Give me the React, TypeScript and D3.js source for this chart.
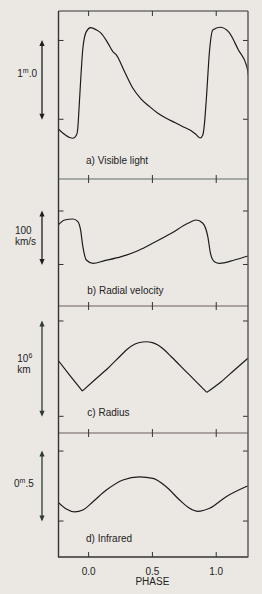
import React from "react";
import * as d3 from "d3";

// ---- data ----
const lightPhase = [-0.245, -0.2, -0.15, -0.122, -0.095, -0.085, -0.078, -0.063, -0.045, -0.018, 0.016, 0.06, 0.099, 0.15, 0.19, 0.217, 0.28, 0.347, 0.41, 0.478, 0.54, 0.608, 0.68, 0.739, 0.804, 0.84, 0.875, 0.895, 0.905, 0.922, 0.948, 0.973, 1.03, 1.096, 1.174, 1.24, 1.254];
const lightMag = [1.11, 1.178, 1.231, 1.241, 1.2, 1.12, 0.945, 0.523, 0.099, -0.112, -0.162, -0.135, -0.091, 0.03, 0.142, 0.184, 0.39, 0.607, 0.74, 0.84, 0.92, 0.987, 1.045, 1.094, 1.145, 1.19, 1.238, 1.2, 1.1, 0.755, 0.121, -0.133, -0.168, -0.112, 0.121, 0.332, 0.459];

const velPhase = [-0.245, -0.188, -0.123, -0.084, -0.063, -0.045, -0.018, 0.034, 0.125, 0.256, 0.386, 0.517, 0.648, 0.778, 0.843, 0.895, 0.934, 0.955, 0.986, 1.025, 1.143, 1.248];
const velKms = [22.0, 33.2, 35.0, 30.0, 14.5, -16.7, -41.6, -47.8, -42.9, -35.4, -24.2, -8.5, 8.3, 27.0, 33.2, 27.0, 2.0, -29.1, -44.8, -47.8, -41.6, -34.1];

const radiusPhase = [-0.245, -0.149, -0.049, 0.047, 0.151, 0.256, 0.3, 0.36, 0.4, 0.45, 0.5, 0.543, 0.59, 0.648, 0.778, 0.856, 0.926, 1.039, 1.143, 1.248];
const radiusVal = [0.598, 0.433, 0.265, 0.381, 0.504, 0.643, 0.7, 0.755, 0.774, 0.782, 0.773, 0.748, 0.7, 0.625, 0.45, 0.346, 0.251, 0.363, 0.486, 0.609];
// indices of the sharp minima (cusps) in the radius curve
const radiusCusps = [2, 16];

const irPhase = [-0.24, -0.175, -0.11, -0.045, 0.034, 0.139, 0.269, 0.399, 0.504, 0.608, 0.713, 0.791, 0.856, 0.948, 1.078, 1.245];
const irMag = [0.366, 0.414, 0.434, 0.421, 0.362, 0.279, 0.207, 0.184, 0.195, 0.255, 0.35, 0.409, 0.431, 0.409, 0.326, 0.25];

const panelTitles = ["a) Visible light", "b) Radial velocity", "c) Radius", "d) Infrared"];
const lightTicks = [0, 1];
const velTicks = [50, -50];
const radiusTicks = [1, 0];
const irTicks = [0, 0.5];
const phaseTicks = [0, 0.5, 1];
const phaseTickLabels = ["0.0", "0.5", "1.0"];
const xTitle = "PHASE";

// ---- layout ----
const W = 262, H = 594;
const L = 58.5, R = 248;
const FONT = "'Liberation Sans', Arial, Helvetica, sans-serif";
const INK = "#1c1c1c";

const x = d3.scaleLinear().domain([-0.236, 1.249]).range([L, R]);

type Panel = {
  top: number; bottom: number; domain: [number, number];
  phase: number[]; vals: number[]; ticks: number[]; cusps: number[];
  title: string; titleX: number; titleY: number;
};

const panels: Panel[] = [
  { top: 11, bottom: 179, domain: [-0.374, 1.758], phase: lightPhase, vals: lightMag, ticks: lightTicks, cusps: [], title: panelTitles[0], titleX: 86, titleY: 163.5 },
  { top: 179, bottom: 306, domain: [109.8, -127.6], phase: velPhase, vals: velKms, ticks: velTicks, cusps: [], title: panelTitles[1], titleX: 87.3, titleY: 294 },
  { top: 306, bottom: 433, domain: [1.157, -0.175], phase: radiusPhase, vals: radiusVal, ticks: radiusTicks, cusps: radiusCusps, title: panelTitles[2], titleX: 87.3, titleY: 416 },
  { top: 433, bottom: 557, domain: [-0.129, 0.757], phase: irPhase, vals: irMag, ticks: irTicks, cusps: [], title: panelTitles[3], titleX: 86, titleY: 541.5 },
];

function Arrow({ xPos, y1, y2, color }: { xPos: number; y1: number; y2: number; color: string }) {
  const hw = 2.6, hl = 6;
  return (
    <g>
      <line x1={xPos} x2={xPos} y1={y1 + 2} y2={y2 - 2} stroke={color} strokeWidth={1.3} />
      <path d={`M${xPos},${y1} L${xPos - hw},${y1 + hl} L${xPos + hw},${y1 + hl} Z`} fill={color} />
      <path d={`M${xPos},${y2} L${xPos - hw},${y2 - hl} L${xPos + hw},${y2 - hl} Z`} fill={color} />
    </g>
  );
}

export default function App() {
  const sepColors = ["#5e6e64", "#6e5c5c", "#6a5a5c"];
  return (
    <svg width={W} height={H} style={{ position: "absolute", left: 0, top: 0, display: "block" }} fontFamily={FONT}>
      <rect x={0} y={0} width={W} height={H} fill="#ebe8e4" />
      {panels.map((p, i) => {
        const y = d3.scaleLinear().domain(p.domain).range([p.top, p.bottom]);
        const idx = d3.range(p.vals.length);
        const line = d3.line<number>().x((k) => x(p.phase[k])).y((k) => y(p.vals[k])).curve(d3.curveMonotoneX);
        // split into pieces at the cusps so the minima stay sharp
        const bounds = [0, ...p.cusps, idx.length - 1];
        const pieces: number[][] = [];
        for (let b = 0; b < bounds.length - 1; b++) pieces.push(idx.slice(bounds[b], bounds[b + 1] + 1));
        return (
          <g key={i}>
            <defs>
              <clipPath id={`clip${i}`}>
                <rect x={L} y={p.top} width={R - L} height={p.bottom - p.top} />
              </clipPath>
            </defs>
            <path d={pieces.map((pc) => line(pc) || "").join("")} fill="none" stroke={INK} strokeWidth={1.2} strokeLinejoin="miter" clipPath={`url(#clip${i})`} />
            {p.ticks.map((t, k) => (
              <g key={k}>
                <line x1={L} x2={L + 5} y1={y(t)} y2={y(t)} stroke="#333" strokeWidth={1} />
                <line x1={R - 5} x2={R} y1={y(t)} y2={y(t)} stroke="#333" strokeWidth={1} />
              </g>
            ))}
            <Arrow xPos={42} y1={y(p.ticks[0]) - 0.5} y2={y(p.ticks[1]) + 0.5} color={i >= 2 ? "#2c3a32" : "#1e1e1e"} />
            <text x={p.titleX} y={p.titleY} fontSize={10} fill="#222">{p.title}</text>
          </g>
        );
      })}
      {/* separators with crossing ticks */}
      {[179, 306, 433].map((sy, i) => (
        <g key={i}>
          <line x1={L} x2={R} y1={sy} y2={sy} stroke={sepColors[i]} strokeWidth={1.2} />
          {phaseTicks.map((t, k) => (
            <line key={k} x1={x(t)} x2={x(t)} y1={sy - 4} y2={sy + 4} stroke="#333" strokeWidth={1} />
          ))}
        </g>
      ))}
      {/* frame */}
      <line x1={L} x2={R} y1={11} y2={11} stroke="#333" strokeWidth={1.2} />
      <line x1={L} x2={R} y1={557} y2={557} stroke="#333" strokeWidth={1.3} />
      <line x1={L} x2={L} y1={11} y2={557.6} stroke="#333" strokeWidth={1.4} />
      <line x1={R} x2={R} y1={11} y2={557.6} stroke="#555" strokeWidth={1.4} />
      {phaseTicks.map((t, k) => (
        <g key={k}>
          <line x1={x(t)} x2={x(t)} y1={11} y2={16} stroke="#333" strokeWidth={1} />
          <line x1={x(t)} x2={x(t)} y1={552} y2={557} stroke="#333" strokeWidth={1} />
          <text x={x(t)} y={575} fontSize={10} textAnchor="middle" fill="#222">{phaseTickLabels[k]}</text>
        </g>
      ))}
      <text x={x(0.5)} y={585} fontSize={10} textAnchor="middle" fill="#222">{xTitle}</text>
      {/* unit labels */}
      <text x={17.3} y={76.7} fontSize={10} fill="#222">
        1<tspan fontSize={7} dy={-4}>m</tspan><tspan dy={4}>.0</tspan>
      </text>
      <text x={15} y={233.6} fontSize={10} fill="#222">100</text>
      <text x={15} y={245.3} fontSize={10} fill="#222">km/s</text>
      <text x={17.3} y={361.7} fontSize={10} fill="#222">
        10<tspan fontSize={7} dy={-4}>6</tspan>
      </text>
      <text x={17.3} y={373.3} fontSize={10} fill="#222">km</text>
      <text x={14} y={487} fontSize={10} fill="#222">
        0<tspan fontSize={7} dy={-4}>m</tspan><tspan dy={4}>.5</tspan>
      </text>
    </svg>
  );
}
